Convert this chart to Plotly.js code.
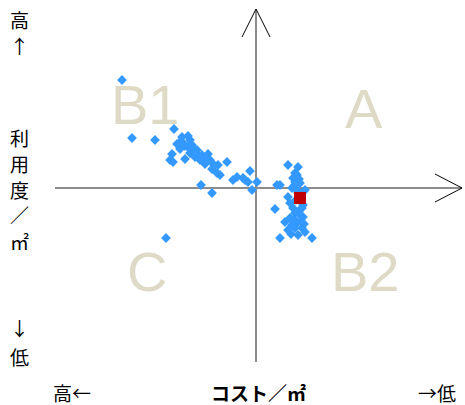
<!DOCTYPE html>
<html>
<head>
<meta charset="utf-8">
<script src="https://cdn.plot.ly/plotly-3.0.1.min.js"></script>
<style>html,body{margin:0;padding:0;background:#fff;}#chart{width:465px;height:405px;}</style>
</head>
<body>
<div id="chart"></div>
<script>
// Cost index (x, positive = low cost) and utilisation index (y, positive = high)
const storeX = [-2.67,-2.47,-2.01,-1.63,-1.47,-1.35,-1.51,-1.57,-1.45,-1.35,-1.27,-1.25,-1.51,-1.67,-1.71,-1.65,-1.41,-1.17,-1.21,-1.07,-0.95,-1.01,-0.87,-0.75,-0.71,-0.77,-0.57,-0.37,-0.45,-0.25,-0.15,-0.11,0.03,-0.07,-1.09,-0.87,0.43,-1.79,-1.31,-1.11,-0.91,-0.21,
  -1.41,-1.19,-1.31,-0.99,-0.83,
  0.65,0.85,0.49,0.39,0.49,1.13,0.83,0.79,0.73,0.65,0.69,0.93,0.79,0.69,0.59,0.83,0.93,0.65,0.85,0.99,0.95,0.85,0.95,0.75,0.89,0.99,0.81,0.89,0.73,
  0.79,0.87,0.77,0.83,0.91,0.75,0.87,0.77,0.91,0.79,0.71,0.97];
const storeY = [2.16,1.00,0.96,1.18,1.02,1.04,0.92,0.88,0.90,0.82,0.86,0.80,0.78,0.68,0.56,0.52,0.58,0.76,0.62,0.66,0.68,0.48,0.38,0.46,0.26,0.30,0.52,0.22,0.16,0.20,0.12,0.34,0.12,-0.04,0.06,-0.10,0.06,-1.00,0.96,0.56,0.56,0.16,
  0.84,0.70,0.70,0.58,0.46,
  0.46,0.42,0.06,-0.42,-1.00,-1.00,0.26,0.12,0.00,-0.18,-0.30,-0.40,-0.50,-0.60,-0.68,-0.70,-0.80,-0.84,-0.94,-0.88,-0.58,-0.10,-0.34,0.20,0.10,-0.04,-0.24,-0.54,-0.74,
  0.30,0.18,0.04,-0.04,-0.14,-0.40,-0.46,-0.62,-0.66,-0.80,-0.92,-0.72];
const targetX = [0.89];
const targetY = [-0.20];

const quadrantLabels = ['B1','A','C','B2'];
const quadrantX = [-2.21, 2.17, -2.17, 2.19];
const quadrantY = [1.68, 1.60, -1.66, -1.66];

const leftLabels = ['高','↑','利','用','度','／','㎡','↓','低'];
const leftLabelY = [0.972,0.898,0.639,0.565,0.491,0.418,0.341,0.097,0.017];
const bottomLabels = ['高←','コスト／㎡','→低'];
const bottomLabelX = [0.042,0.499,0.939];

const cjk = '"Noto Sans CJK JP", "Noto Sans CJK SC", sans-serif';

const traces = [
  {x: storeX, y: storeY, type: 'scatter', mode: 'markers',
   marker: {symbol: 'diamond', size: 7.5, color: '#3399ff'}, hoverinfo: 'skip'},
  {x: targetX, y: targetY, type: 'scatter', mode: 'markers',
   marker: {symbol: 'square', size: 12, color: '#c00000'}, hoverinfo: 'skip'}
];

const annotations = [];
quadrantLabels.forEach((t, i) => annotations.push({
  text: t, x: quadrantX[i], y: quadrantY[i], xref: 'x', yref: 'y', showarrow: false,
  xanchor: 'center', yanchor: 'middle',
  font: {family: '"Liberation Sans", Arial, sans-serif', size: 56, color: '#dedac5'}
}));
leftLabels.forEach((t, i) => annotations.push({
  text: t, x: -0.086, y: leftLabelY[i], xref: 'paper', yref: 'paper', showarrow: false,
  xanchor: 'center', yanchor: 'middle', font: {family: cjk, size: 19, color: '#000'}
}));
bottomLabels.forEach((t, i) => annotations.push({
  text: i === 1 ? '<b>' + t + '</b>' : t, x: bottomLabelX[i], y: -0.088, xref: 'paper', yref: 'paper', showarrow: false,
  xanchor: 'center', yanchor: 'middle', font: {family: cjk, size: 19, color: '#000'}
}));

const shapes = [
  {type: 'path', xref: 'paper', yref: 'paper', path: 'M 0.4595 0.9233 L 0.4939 1.0028 L 0.5283 0.9233',
   line: {color: '#000', width: 1}},
  {type: 'path', xref: 'paper', yref: 'paper', path: 'M 0.9337 0.5341 L 1.0 0.4943 L 0.9337 0.4545',
   line: {color: '#000', width: 1}}
];

const axisCommon = {showgrid: false, showticklabels: false, ticks: '', showline: false,
  zeroline: true, zerolinecolor: '#8c8c8c', zerolinewidth: 2, fixedrange: true};

const layout = {
  width: 465, height: 405,
  margin: {l: 55, r: 3, t: 10, b: 43},
  paper_bgcolor: '#fff', plot_bgcolor: '#fff',
  showlegend: false,
  xaxis: Object.assign({range: [-4.01, 4.13]}, axisCommon),
  yaxis: Object.assign({range: [-3.48, 3.56]}, axisCommon),
  annotations: annotations,
  shapes: shapes
};

Plotly.newPlot('chart', traces, layout, {displayModeBar: false, staticPlot: true});
</script>
</body>
</html>
